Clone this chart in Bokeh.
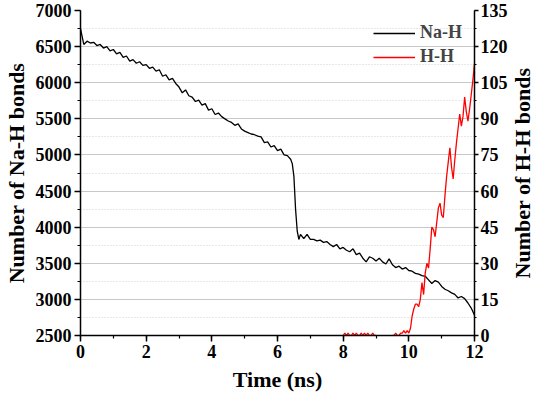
from bokeh.plotting import figure
from bokeh.layouts import row
from bokeh.models import Range1d, LinearAxis, SingleIntervalTicker, Legend, LegendItem, Title
from bokeh.embed import file_html
from bokeh.resources import INLINE

# ---- data ----
na_time = [round(0.1 * i, 2) for i in range(65)] + [6.45, 6.5, 6.55, 6.6, 6.65] + [round(6.7 + 0.1 * i, 2) for i in range(54)]
na_h = [
    6750, 6530, 6575, 6550, 6560, 6515, 6530, 6480, 6500, 6440,   # 0.0-0.9
    6460, 6400, 6420, 6350, 6370, 6300, 6320, 6270, 6290, 6240,   # 1.0-1.9
    6250, 6200, 6215, 6160, 6180, 6090, 6110, 6040, 6060, 5990,   # 2.0-2.9
    5940, 5860, 5900, 5820, 5800, 5740, 5760, 5690, 5710, 5620,   # 3.0-3.9
    5640, 5560, 5580, 5530, 5500, 5470, 5450, 5410, 5430, 5360,   # 4.0-4.9
    5330, 5310, 5290, 5280, 5260, 5250, 5170, 5180, 5110, 5130,   # 5.0-5.9
    5060, 5080, 5000, 4990, 4940,                                 # 6.0-6.4
    4880, 4700, 4250, 3950, 3830,                                 # 6.45-6.65
    3900, 3840, 3900,                                             # 6.7-6.9
    3830, 3830, 3810, 3820, 3790, 3800, 3760, 3730, 3760, 3700,   # 7.0-7.9
    3720, 3680, 3660, 3700, 3620, 3640, 3570, 3520, 3590, 3570,   # 8.0-8.9
    3530, 3570, 3520, 3490, 3560, 3480, 3440, 3460, 3420, 3440,   # 9.0-9.9
    3400, 3390, 3360, 3350, 3330, 3320, 3270, 3220, 3260, 3240,   # 10.0-10.9
    3180, 3140, 3120, 3090, 3070, 3020, 3040, 3010, 2950, 2880,   # 11.0-11.9
    2780,                                                         # 12.0
]

hh_time = [round(8.0 + 0.05 * i, 2) for i in range(22)] + [round(9.5 + 0.05 * i, 2) for i in range(51)]
hh = [
    0, 1, 0, 1, 0, 0, 1, 0, 1, 0, 0, 1, 0, 1, 0, 1, 0, 0, 1, 0, 0,   # 8.0-9.0
    float("nan"),                                                   # gap
    0, 0, 1, 0, 0, 1, 1, 2, 1, 2,                                   # 9.5-9.95
    1, 3, 8, 11, 13, 13, 12, 15, 22, 17,                            # 10.0-10.45
    26, 30, 28, 36, 45, 44, 41, 47, 53, 55,                         # 10.5-10.95
    50, 49, 58, 66, 72, 78, 70, 65, 73, 80,                         # 11.0-11.45
    86, 92, 87, 91, 99, 93, 89, 94, 100, 106,                       # 11.5-11.95
    113,                                                            # 12.0
]

x_label = "Time (ns)"
y_label_left = "Number of Na-H bonds"
y_label_right = "Number of H-H bonds"
series_names = ["Na-H", "H-H"]

FONT = "Liberation Serif"

p = figure(width=510, height=394, output_backend="svg", toolbar_location=None,
           x_range=Range1d(0, 12), y_range=Range1d(2500, 7000),
           min_border_left=72, min_border_right=36, min_border_top=10, min_border_bottom=59)
p.outline_line_color = None
p.background_fill_color = "white"

p.extra_y_ranges = {"hh": Range1d(0, 135)}

r1 = p.line(na_time, na_h, line_color="black", line_width=1.3)
r2 = p.line(hh_time, hh, line_color="red", line_width=1.3, y_range_name="hh")

def style_axis(ax):
    ax.axis_line_color = "black"
    ax.axis_line_width = 1.5
    ax.major_tick_line_color = "black"
    ax.major_tick_line_width = 1.5
    ax.minor_tick_line_color = "black"
    ax.minor_tick_line_width = 1.2
    ax.major_tick_in = 0
    ax.major_tick_out = 6
    ax.minor_tick_in = 0
    ax.minor_tick_out = 3
    ax.major_label_text_font = FONT
    ax.major_label_text_font_style = "bold"
    ax.major_label_text_font_size = "18px"
    ax.major_label_text_color = "black"
    ax.axis_label_text_font = FONT
    ax.axis_label_text_font_style = "bold"
    ax.axis_label_text_font_size = "22px"
    ax.axis_label_text_color = "black"
    ax.major_label_standoff = 3
    ax.axis_label_standoff = 4

xa = p.xaxis[0]
xa.ticker = SingleIntervalTicker(interval=2, num_minor_ticks=2)
xa.axis_label = x_label
style_axis(xa)
xa.axis_label_standoff = 6

ya = p.yaxis[0]
ya.ticker = SingleIntervalTicker(interval=500, num_minor_ticks=2)
ya.axis_label = y_label_left
style_axis(ya)

yr = LinearAxis(y_range_name="hh", ticker=SingleIntervalTicker(interval=15, num_minor_ticks=2))
style_axis(yr)
yr.major_tick_out = 4
yr.minor_tick_out = 2
yr.major_label_standoff = 2
yr.axis_label_standoff = 0
p.add_layout(yr, "right")

p.xgrid.grid_line_color = None
p.ygrid.ticker = ya.ticker
p.ygrid.grid_line_color = "#c8c8c8"
p.ygrid.grid_line_width = 1
p.ygrid.minor_grid_line_color = "#d0d0d0"
p.ygrid.minor_grid_line_dash = "1 2"
p.ygrid.minor_grid_line_width = 1

legend = Legend(items=[LegendItem(label=series_names[0], renderers=[r1]),
                       LegendItem(label=series_names[1], renderers=[r2])],
                location="top_right", margin=10, padding=2, spacing=3,
                glyph_width=42, glyph_height=20, label_height=20, label_standoff=5,
                border_line_alpha=0, background_fill_alpha=0,
                label_text_font=FONT, label_text_font_style="bold", label_text_font_size="18px")
p.add_layout(legend, "center")

# narrow companion panel carrying the right-hand axis title (reads bottom-to-top)
p2 = figure(width=24, height=394, output_backend="svg", toolbar_location=None,
            x_range=Range1d(0, 1), y_range=Range1d(0, 1),
            min_border_left=0, min_border_right=0, min_border_top=10, min_border_bottom=59)
p2.axis.visible = False
p2.grid.visible = False
p2.outline_line_color = None
p2.add_layout(Title(text=y_label_right, align="center", text_font=FONT, text_font_style="bold",
                    text_font_size="22px", text_color="black", standoff=0, offset=0), "left")

layout = row(p, p2, spacing=0)

open("out.html", "w").write(file_html(layout, INLINE))
